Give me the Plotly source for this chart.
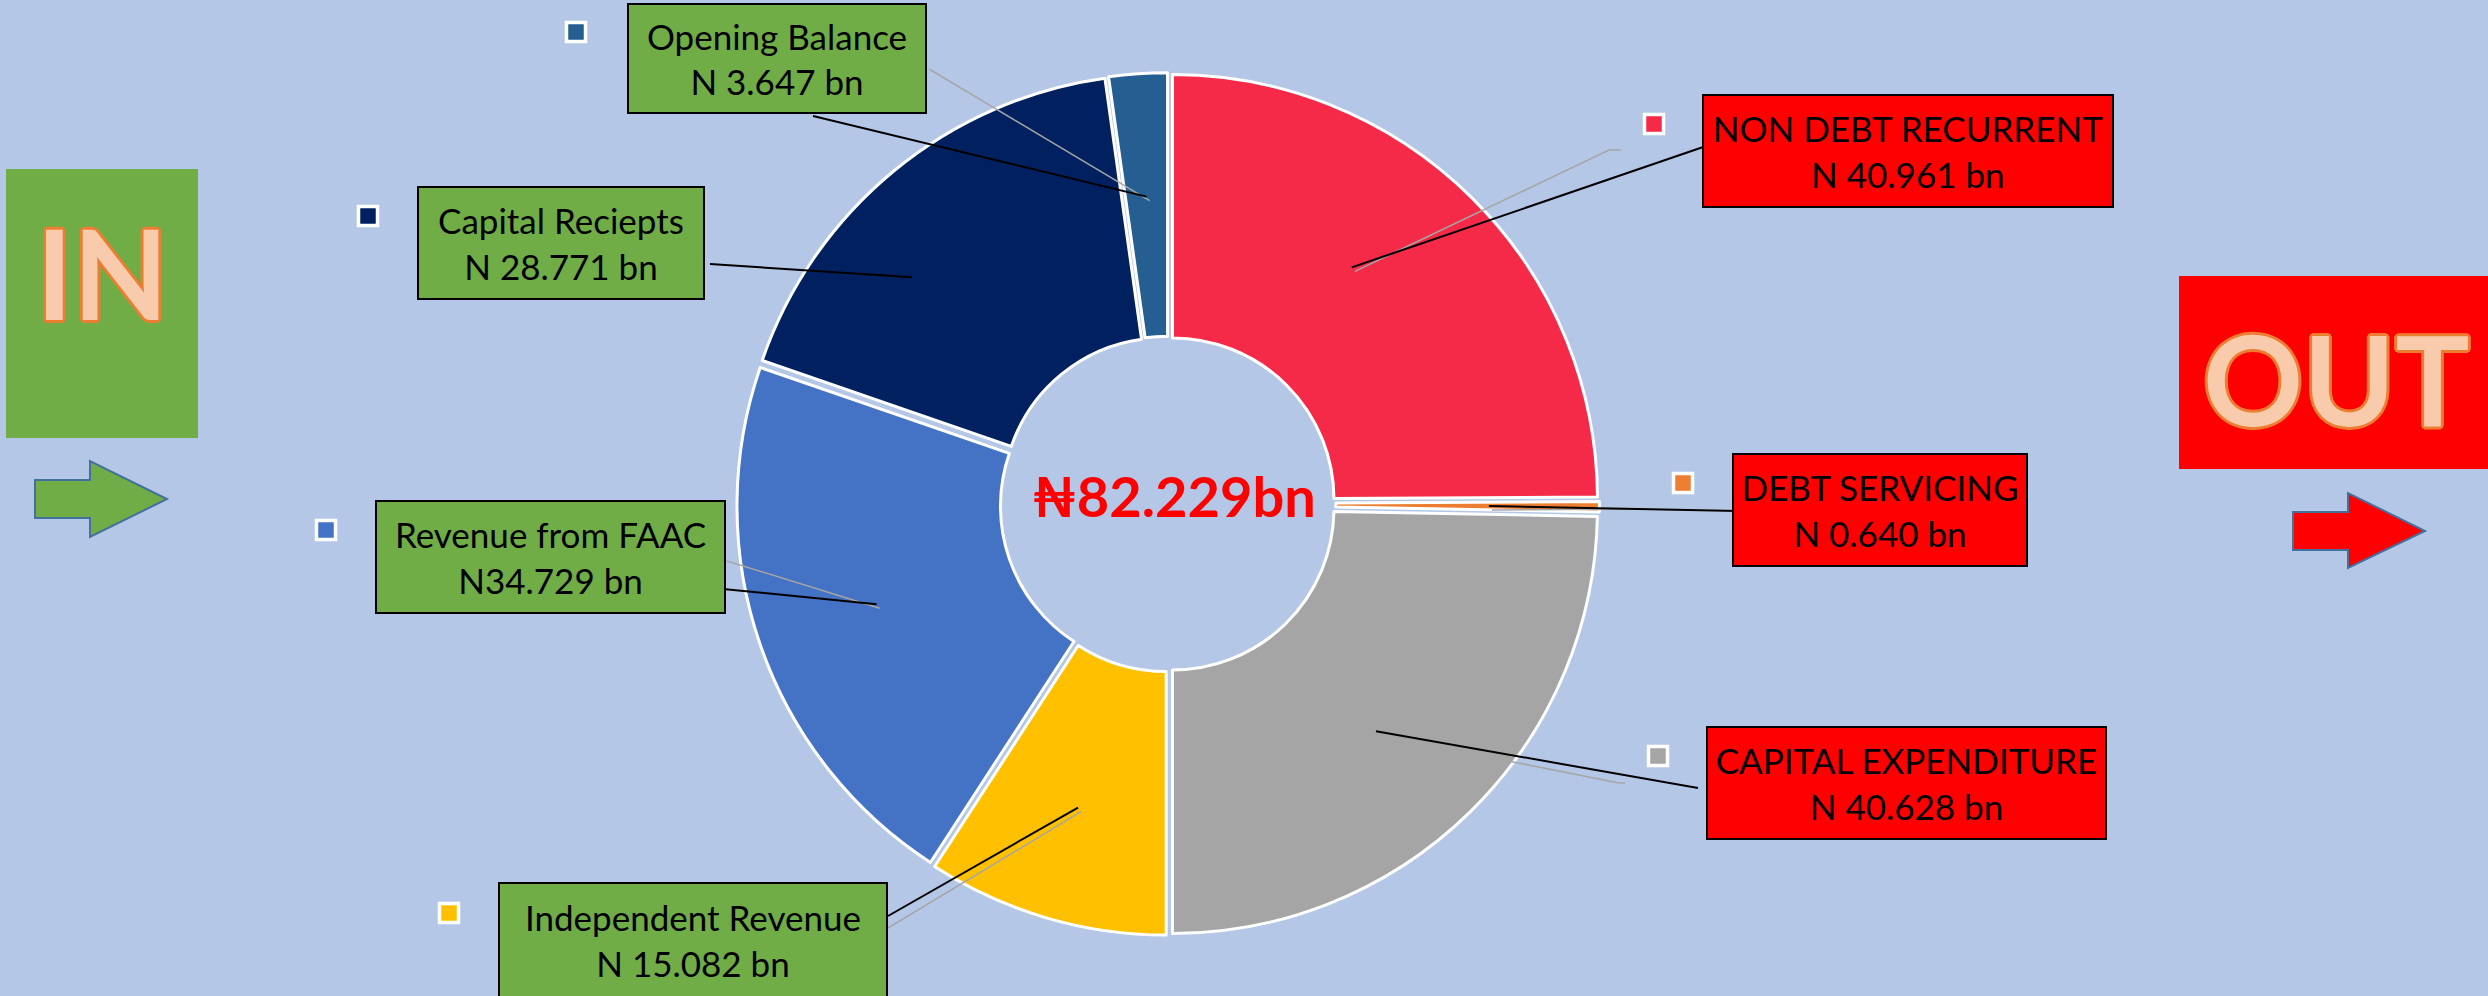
import math
import plotly.graph_objects as go

# ---------------- data ----------------
categories = ["NON DEBT RECURRENT", "DEBT SERVICING", "CAPITAL EXPENDITURE",
              "Independent Revenue", "Revenue from FAAC", "Capital Reciepts", "Opening Balance"]
values = [40.961, 0.640, 40.628, 15.082, 34.729, 28.771, 3.647]
value_sep = [" ", " ", " ", " ", "", " ", " "]          # "N34.729 bn" has no space
flow = ["out", "out", "out", "in", "in", "in", "in"]
slice_colors = ["#F52A48", "#ED7D31", "#A5A5A5", "#FFC000", "#4472C4", "#002060", "#255E91"]
center_label = "₦82.229bn"

# ---------------- layout constants (pixels) ----------------
W, H = 2488, 996
CX, CY, R = 1168, 504, 425
PULL = 0.015
BG = "#B4C7E7"
GREEN = "#70AD47"
RED = "#FF0000"
FONT = "Lato"

# label boxes: center x, center y, width, height
boxes = {
    "NON DEBT RECURRENT": (1908, 151, 412, 114),
    "DEBT SERVICING": (1880, 510, 296, 114),
    "CAPITAL EXPENDITURE": (1906, 783, 401, 114),
    "Independent Revenue": (693, 940, 390, 116),
    "Revenue from FAAC": (550, 557, 351, 114),
    "Capital Reciepts": (561, 243, 288, 114),
    "Opening Balance": (777, 58, 300, 111),
}
# small legend squares
squares = {
    "NON DEBT RECURRENT": (1654, 124), "DEBT SERVICING": (1683, 483),
    "CAPITAL EXPENDITURE": (1658, 756), "Independent Revenue": (449, 913),
    "Revenue from FAAC": (326, 530), "Capital Reciepts": (368, 216),
    "Opening Balance": (576, 32),
}
# leader-line start points (black) and grey guide starts
black_start = {
    "NON DEBT RECURRENT": (1712, 144), "DEBT SERVICING": (1738, 511),
    "CAPITAL EXPENDITURE": (1698, 788), "Independent Revenue": (888, 916),
    "Revenue from FAAC": (723, 589), "Capital Reciepts": (710, 264),
    "Opening Balance": (813, 116),
}
grey_start = {
    "NON DEBT RECURRENT": [(1621, 150), (1609, 150)], "DEBT SERVICING": [(1648, 509)],
    "CAPITAL EXPENDITURE": [(1625, 783), (1619, 783)], "Independent Revenue": [(888, 928)],
    "Revenue from FAAC": [(727, 561)], "Opening Balance": [(929, 69)],
}
# where along the slice radius the leader line ends (fraction of R), and angle nudge (deg)
tip_frac = [0.69, 0.74, 0.71, 0.73, 0.71, 0.79, 0.71]
tip_nudge = [-7, 0, 2, 0, 0, -9, 0]

total = sum(values)
mid_angles = []
acc = 0.0
for v in values:
    mid_angles.append((acc + v / 2) / total * 2 * math.pi)
    acc += v


def tip_point(i):
    a = mid_angles[i] + math.radians(tip_nudge[i])
    r = R * (tip_frac[i] + PULL)
    return CX + r * math.sin(a), CY - r * math.cos(a)


fig = go.Figure()

half = R * (1 + PULL)
fig.add_trace(go.Pie(
    labels=categories, values=values, sort=False, direction="clockwise", rotation=0,
    hole=0.38, pull=[PULL] * len(values),
    marker=dict(colors=slice_colors, line=dict(color="white", width=3)),
    textinfo="none", hoverinfo="label+value", showlegend=False,
    domain=dict(x=[(CX - half) / W, (CX + half) / W],
                y=[1 - (CY + half) / H, 1 - (CY - half) / H]),
))

fig.add_trace(go.Scatter(
    x=[squares[c][0] for c in categories], y=[squares[c][1] for c in categories],
    mode="markers", showlegend=False, hoverinfo="skip",
    marker=dict(symbol="square", size=19, color=slice_colors, line=dict(color="white", width=3.5)),
))

shapes = []
shapes.append(dict(type="rect", xref="x", yref="y", x0=6, x1=198, y0=169, y1=438,
                   fillcolor=GREEN, line=dict(width=0), layer="below"))
shapes.append(dict(type="rect", xref="x", yref="y", x0=2179, x1=2495, y0=276, y1=469,
                   fillcolor=RED, line=dict(width=0), layer="below"))
shapes.append(dict(type="path", xref="x", yref="y",
                   path="M35,480 L90,480 L90,461 L167,499 L90,537 L90,518 L35,518 Z",
                   fillcolor=GREEN, line=dict(color="#41719C", width=2)))
shapes.append(dict(type="path", xref="x", yref="y",
                   path="M2293,512 L2348,512 L2348,493 L2425,531 L2348,568 L2348,550 L2293,550 Z",
                   fillcolor=RED, line=dict(color="#41719C", width=2)))

for i, c in enumerate(categories):
    tx, ty = tip_point(i)
    if c in grey_start:
        pts = grey_start[c] + [(tx + 3, ty + 4)]
        path = "M" + " L".join(f"{px:.1f},{py:.1f}" for px, py in pts)
        shapes.append(dict(type="path", xref="x", yref="y", path=path,
                           line=dict(color="#A6A6A6", width=1.5)))
    sx, sy = black_start[c]
    shapes.append(dict(type="line", xref="x", yref="y", x0=sx, y0=sy, x1=tx, y1=ty,
                       line=dict(color="black", width=2)))

annotations = []
for i, c in enumerate(categories):
    bx, by, bw, bh = boxes[c]
    text = f"{c}<br>N{value_sep[i]}{values[i]:.3f} bn"
    annotations.append(dict(
        x=bx, y=by, xref="x", yref="y", text=text, showarrow=False,
        xanchor="center", yanchor="middle", align="center",
        width=bw - 4, height=bh - 4, borderpad=0, borderwidth=2, bordercolor="black",
        bgcolor=GREEN if flow[i] == "in" else RED,
        font=dict(family=FONT, size=35, color="black"),
    ))

annotations.append(dict(x=CX + 6, y=CY - 9, xref="x", yref="y", text=f"<b>{center_label}</b>",
                        showarrow=False, font=dict(family=FONT, size=56, color=RED)))

outline = ", ".join(f"{dx}px {dy}px 0 #ED7D31" for dx, dy in
                    [(3, 0), (-3, 0), (0, 3), (0, -3), (2, 2), (-2, 2), (2, -2), (-2, -2)])
annotations.append(dict(x=102, y=272, xref="x", yref="y", text="<b>IN</b>", showarrow=False,
                        font=dict(family=FONT, size=124, color="#F8CBAD", shadow=outline)))
annotations.append(dict(x=2336, y=378, xref="x", yref="y", text="<b>OUT</b>", showarrow=False,
                        font=dict(family=FONT, size=124, color="#F8CBAD", shadow=outline)))

fig.update_layout(
    width=W, height=H, margin=dict(l=0, r=0, t=0, b=0),
    paper_bgcolor=BG, plot_bgcolor=BG,
    xaxis=dict(range=[0, W], visible=False, fixedrange=True),
    yaxis=dict(range=[H, 0], visible=False, fixedrange=True),
    shapes=shapes, annotations=annotations, showlegend=False,
)

fig.write_html("out.html", config={"displayModeBar": False},
               post_script="document.body.style.margin='0';document.body.style.overflow='hidden';")
